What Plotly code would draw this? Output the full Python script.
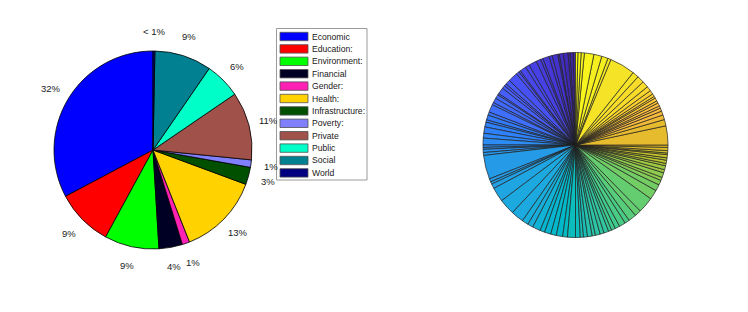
import math
import plotly.graph_objects as go

# ---------------- data ----------------
CATEGORIES = ["Economic", "Education:", "Environment:", "Financial", "Gender:", "Health:",
              "Infrastructure:", "Poverty:", "Private", "Public", "Social", "World"]
SHARES = [32.4, 9.2, 8.8, 3.8, 1.2, 13.2, 2.8, 1.2, 11.0, 5.8, 9.2, 0.3]
PCT_LABELS = ["32%", "9%", "9%", "4%", "1%", "13%", "3%", "1%", "11%", "6%", "9%", "< 1%"]

# right pie: many small shares, in drawing order (counter-clockwise from 12 o'clock)
DETAIL_SHARES = [
    1.5, 2, 1.2, 3, 2.5, 1, 3.5, 2, 4, 1.5, 3, 5, 2.5, 4, 1, 2, 6, 3, 1.5, 2, 4, 1, 2.5, 3,
    1.5, 5, 2, 3, 1.5, 3, 4, 3, 4.3,
    1.5, 1.2, 2, 1.8, 15, 2, 1.5, 3, 9, 10, 8, 4, 3.5, 5, 3, 4, 3.5, 4, 3, 5,
    3, 2, 2.5, 3, 2, 3, 2.5, 3, 2, 2.5, 3, 4, 3, 5, 4, 10, 6, 4, 3, 2, 3, 2, 2.5, 1.5, 2,
    1.5, 2, 1, 1.5, 2, 1.5,
    12, 4, 3, 2.5, 2, 1.5, 2, 1.5, 2, 1.2, 1.8, 2.5, 3, 4, 4.5, 4, 16, 2, 4, 5, 6, 2, 2, 1.5,
]

# ---------------- styles ----------------
CAT_COLORS = ["#0000FF", "#FF0000", "#00FF00", "#000024", "#FF20B4", "#FFD200",
              "#005000", "#8080FF", "#A0524A", "#00FFC8", "#008090", "#000080"]

PARULA = [
    (0.2422, 0.1504, 0.6603), (0.2504, 0.1650, 0.7076), (0.2578, 0.1818, 0.7511), (0.2647, 0.1978, 0.7952),
    (0.2706, 0.2147, 0.8364), (0.2751, 0.2342, 0.8710), (0.2783, 0.2559, 0.8991), (0.2803, 0.2782, 0.9221),
    (0.2813, 0.3006, 0.9414), (0.2810, 0.3228, 0.9579), (0.2795, 0.3447, 0.9717), (0.2760, 0.3667, 0.9829),
    (0.2699, 0.3892, 0.9906), (0.2602, 0.4123, 0.9952), (0.2440, 0.4358, 0.9988), (0.2206, 0.4603, 0.9973),
    (0.1963, 0.4847, 0.9892), (0.1834, 0.5074, 0.9798), (0.1786, 0.5289, 0.9682), (0.1764, 0.5499, 0.9520),
    (0.1687, 0.5703, 0.9359), (0.1540, 0.5902, 0.9218), (0.1460, 0.6091, 0.9079), (0.1380, 0.6276, 0.8973),
    (0.1248, 0.6459, 0.8883), (0.1113, 0.6635, 0.8763), (0.0952, 0.6798, 0.8598), (0.0689, 0.6948, 0.8394),
    (0.0297, 0.7082, 0.8163), (0.0036, 0.7203, 0.7917), (0.0067, 0.7312, 0.7660), (0.0433, 0.7411, 0.7394),
    (0.0964, 0.7500, 0.7120), (0.1408, 0.7584, 0.6842), (0.1717, 0.7670, 0.6554), (0.1938, 0.7758, 0.6251),
    (0.2161, 0.7843, 0.5923), (0.2470, 0.7918, 0.5567), (0.2906, 0.7973, 0.5188), (0.3406, 0.8008, 0.4789),
    (0.3909, 0.8029, 0.4354), (0.4456, 0.8024, 0.3909), (0.5044, 0.7993, 0.3480), (0.5616, 0.7942, 0.3045),
    (0.6174, 0.7876, 0.2612), (0.6720, 0.7793, 0.2227), (0.7242, 0.7698, 0.1910), (0.7738, 0.7598, 0.1646),
    (0.8203, 0.7498, 0.1535), (0.8634, 0.7406, 0.1596), (0.9035, 0.7330, 0.1774), (0.9393, 0.7288, 0.2100),
    (0.9728, 0.7298, 0.2394), (0.9956, 0.7434, 0.2371), (0.9970, 0.7659, 0.2199), (0.9952, 0.7893, 0.2028),
    (0.9892, 0.8136, 0.1885), (0.9786, 0.8386, 0.1766), (0.9676, 0.8639, 0.1643), (0.9610, 0.8890, 0.1537),
    (0.9597, 0.9135, 0.1423), (0.9628, 0.9373, 0.1265), (0.9691, 0.9606, 0.1064), (0.9769, 0.9839, 0.0805),
]


def parula_colors(n):
    out = []
    for i in range(n):
        k = min(int(i / max(n - 1, 1) * 64), 63)
        r, g, b = PARULA[k]
        out.append(f"rgb({round(r*255)},{round(g*255)},{round(b*255)})")
    return out


FONT = "Liberation Sans, Arial, sans-serif"
TEXT_COLOR = "#1a1a1a"
W, H = 748, 312

# geometry (pixels)
L_CX, L_CY, L_R = 153, 150, 99
R_CX, R_CY, R_R = 575.5, 145, 92.5
LEG_X0, LEG_X1, LEG_Y0, LEG_Y1 = 276.5, 367, 28.5, 180
SW_X0, SW_X1, SW_H, ROW0, ROW_STEP = 280, 308, 8.4, 36.5, 12.4


def px(x):
    return x / W


def py(y):
    return 1 - y / H


def start_rotation(values):
    # plotly's counter-clockwise pies put the first slice right of 12 o'clock;
    # rotate so that the first slice starts at 12 o'clock and runs counter-clockwise
    return -360.0 * values[0] / sum(values)


fig = go.Figure()

fig.add_trace(go.Pie(
    labels=CATEGORIES, values=SHARES,
    textinfo="none", sort=False, direction="counterclockwise",
    rotation=start_rotation(SHARES),
    marker=dict(colors=CAT_COLORS, line=dict(color="black", width=0.8)),
    domain=dict(x=[px(L_CX - L_R), px(L_CX + L_R)], y=[py(L_CY + L_R), py(L_CY - L_R)]),
    showlegend=False, hoverinfo="label+percent",
))

fig.add_trace(go.Pie(
    values=DETAIL_SHARES, labels=[f"s{i+1}" for i in range(len(DETAIL_SHARES))],
    textinfo="none", sort=False, direction="counterclockwise",
    rotation=start_rotation(DETAIL_SHARES),
    marker=dict(colors=parula_colors(len(DETAIL_SHARES)), line=dict(color="#202020", width=0.7)),
    domain=dict(x=[px(R_CX - R_R), px(R_CX + R_R)], y=[py(R_CY + R_R), py(R_CY - R_R)]),
    showlegend=False,
))

# percentage labels at 1.2 x radius, at each slice's middle angle (counter-clockwise from top)
total = sum(SHARES)
cum = 0.0
for v, lab in zip(SHARES, PCT_LABELS):
    mid = (cum + v / 2) / total * 2 * math.pi
    cum += v
    x = L_CX - 1.2 * L_R * math.sin(mid)
    y = L_CY - 1.2 * L_R * math.cos(mid)
    fig.add_annotation(x=px(x), y=py(y), xref="paper", yref="paper", text=lab,
                       showarrow=False, xanchor="center", yanchor="middle",
                       font=dict(family=FONT, size=9.5, color=TEXT_COLOR))

# legend box
fig.add_shape(type="rect", xref="paper", yref="paper",
              x0=px(LEG_X0), x1=px(LEG_X1), y0=py(LEG_Y1), y1=py(LEG_Y0),
              line=dict(color="#9a9a9a", width=1), fillcolor="white")
for i, (name, col) in enumerate(zip(CATEGORIES, CAT_COLORS)):
    yc = ROW0 + i * ROW_STEP
    fig.add_shape(type="rect", xref="paper", yref="paper",
                  x0=px(SW_X0), x1=px(SW_X1), y0=py(yc + SW_H / 2), y1=py(yc - SW_H / 2),
                  line=dict(color="#505050", width=0.8), fillcolor=col)
    fig.add_annotation(x=px(SW_X1 + 1.5), y=py(yc), xref="paper", yref="paper", text=name,
                       showarrow=False, xanchor="left", yanchor="middle",
                       font=dict(family=FONT, size=8.6, color=TEXT_COLOR))

fig.update_layout(
    width=W, height=H,
    margin=dict(l=0, r=0, t=0, b=0),
    paper_bgcolor="white", plot_bgcolor="white",
    font=dict(family=FONT, size=9, color=TEXT_COLOR),
    showlegend=False,
)

fig.write_html("out.html", config={"displayModeBar": False},
               post_script="document.body.style.margin='0px';")
